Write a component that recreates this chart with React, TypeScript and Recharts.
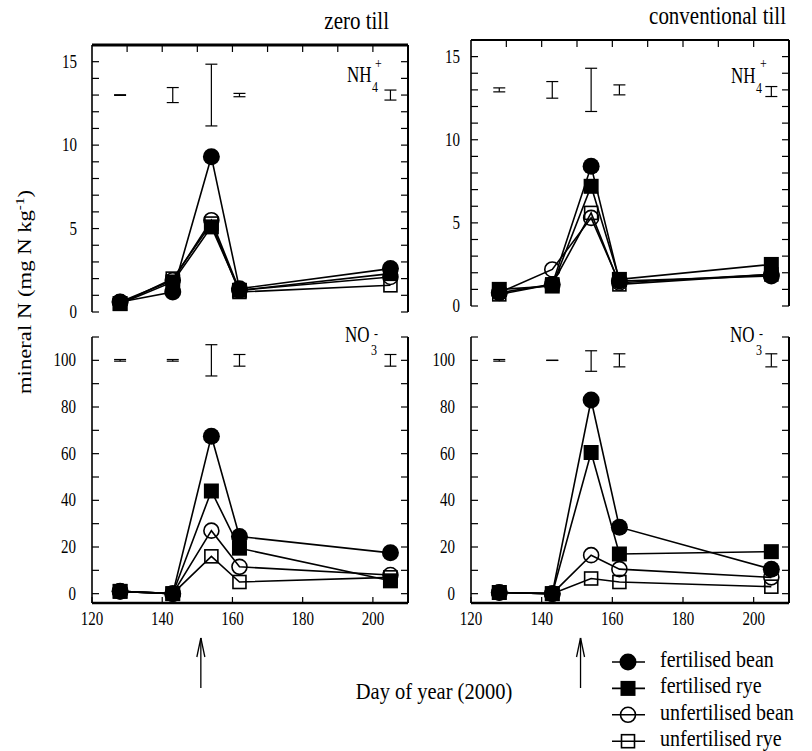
import React from "react";
import { LineChart, Line, XAxis, YAxis, ErrorBar, ReferenceLine, Legend } from "recharts";

const FONT = '"Liberation Serif", "Times New Roman", serif';

// sampling days (day of year 2000) and fertiliser date (arrow)
const DAYS = [128, 143, 154, 162, 205];
const ARROW_DAY = 151;
const X_DOMAIN: [number, number] = [120, 210];
const X_TICKS_TOP = [130, 140, 150, 160, 170, 180, 190, 200];
const X_TICKS_BOTTOM = [120, 140, ARROW_DAY, 160, 180, 200];

const NH4_DOMAIN: [number, number] = [0, 16];
const NH4_TICKS = [0, 1, 2, 3, 4, 5, 6, 7, 8, 9, 10, 11, 12, 13, 14, 15, 16];
const NO3_DOMAIN: [number, number] = [-4, 110];
const NO3_TICKS = [0, 10, 20, 30, 40, 50, 60, 70, 80, 90, 100, 110];

// NH4+ zero till
const NH4_ZT_FB = [0.6, 1.2, 9.3, 1.4, 2.6];
const NH4_ZT_FR = [0.5, 1.8, 5.1, 1.3, 2.3];
const NH4_ZT_UB = [0.6, 1.9, 5.5, 1.3, 2.1];
const NH4_ZT_UR = [0.5, 2.0, 5.3, 1.2, 1.6];
const NH4_ZT_ERR = [0.02, 0.45, 1.85, 0.1, 0.3];
const NH4_ZT_MID = [13, 13, 13, 13, 13];

// NH4+ conventional till
const NH4_CT_FB = [0.8, 1.3, 8.4, 1.5, 1.8];
const NH4_CT_FR = [1.0, 1.2, 7.2, 1.6, 2.5];
const NH4_CT_UB = [0.8, 2.2, 5.3, 1.4, 1.9];
const NH4_CT_UR = [0.7, 1.3, 5.6, 1.3, 1.9];
const NH4_CT_ERR = [0.12, 0.5, 1.3, 0.3, 0.3];
const NH4_CT_MID = [13, 13, 13, 13, 12.9];

// NO3- zero till
const NO3_ZT_FB = [1, 0, 67.5, 24.5, 17.5];
const NO3_ZT_FR = [1, 0, 44, 19.5, 5.5];
const NO3_ZT_UB = [1, 0, 27, 11.5, 8];
const NO3_ZT_UR = [1, 0, 16, 5, 7];
const NO3_ZT_ERR = [0.35, 0.35, 6.7, 2.5, 2.5];
const NO3_ZT_MID = [100, 100, 100, 100, 100];

// NO3- conventional till
const NO3_CT_FB = [0.5, 0, 83, 28.5, 10.5];
const NO3_CT_FR = [0.5, 0, 60.5, 17, 18];
const NO3_CT_UB = [0.5, 0, 16.5, 10.5, 7];
const NO3_CT_UR = [0.5, 0, 6.5, 5, 3];
const NO3_CT_ERR = [0.35, 0.05, 4.4, 2.8, 2.8];
const NO3_CT_MID = [100, 100, 99.7, 100, 100];

const SERIES = [
  { key: "ur", name: "unfertilised rye", shape: "square", filled: false },
  { key: "ub", name: "unfertilised bean", shape: "circle", filled: false },
  { key: "fr", name: "fertilised rye", shape: "square", filled: true },
  { key: "fb", name: "fertilised bean", shape: "circle", filled: true },
];

const buildRows = (fb: number[], fr: number[], ub: number[], ur: number[], mid: number[], err: number[]) =>
  DAYS.map((day, i) => ({ day, fb: fb[i], fr: fr[i], ub: ub[i], ur: ur[i], mid: mid[i], err: err[i] }));

const Marker = ({ cx, cy, shape, filled }: any) => {
  if (shape === "circle") {
    return filled
      ? <circle cx={cx} cy={cy} r={8.5} fill="#000" />
      : <circle cx={cx} cy={cy} r={7.5} fill="none" stroke="#000" strokeWidth={1.6} />;
  }
  return filled
    ? <rect x={cx - 7.5} y={cy - 7.5} width={15} height={15} fill="#000" />
    : <rect x={cx - 6.5} y={cy - 6.5} width={13} height={13} fill="none" stroke="#000" strokeWidth={1.6} />;
};

const Txt = ({ x, y, anchor = "start", size = 19, sy = 1.25, children }: any) => (
  <text transform={`translate(${x} ${y}) scale(1 ${sy})`} textAnchor={anchor} fontSize={size} fontFamily={FONT} fill="#000">
    {children}
  </text>
);

function YTick({ x, y, payload, plotW, every, max, gap }: any) {
  const v = payload.value;
  return (
    <g>
      <line x1={x} x2={x + 7} y1={y} y2={y} stroke="#000" strokeWidth={1.2} />
      <line x1={x + plotW - 7} x2={x + plotW} y1={y} y2={y} stroke="#000" strokeWidth={1.2} />
      {v % every === 0 && v <= max && (
        <Txt x={x - gap} y={y + 6} anchor="end" size={15} sy={1.3}>{v}</Txt>
      )}
    </g>
  );
}

function TopTick({ x, y }: any) {
  return <line x1={x} x2={x} y1={y} y2={y + 7} stroke="#000" strokeWidth={1.2} />;
}

function BottomTick({ x, y, payload }: any) {
  const v = payload.value;
  if (v === ARROW_DAY) {
    return (
      <g stroke="#000" strokeWidth={1.3} fill="none">
        <line x1={x} x2={x} y1={y + 35} y2={y + 85} />
        <line x1={x} x2={x - 4} y1={y + 35} y2={y + 54} />
        <line x1={x} x2={x + 4} y1={y + 35} y2={y + 54} />
      </g>
    );
  }
  return (
    <g>
      <line x1={x} x2={x} y1={y} y2={y - 6} stroke="#000" strokeWidth={1.2} />
      <Txt x={x} y={y + 22} anchor="middle" size={15} sy={1.3}>{v}</Txt>
    </g>
  );
}

function LegendBox() {
  const rows = [...SERIES].reverse();
  return (
    <svg width={215} height={104}>
      {rows.map((s, i) => {
        const cy = 15 + i * 26.4;
        return (
          <g key={s.key}>
            <line x1={7} x2={40} y1={cy} y2={cy} stroke="#000" strokeWidth={1.6} />
            <Marker cx={23} cy={cy} shape={s.shape} filled={s.filled} />
            <Txt x={55} y={cy + 5} size={20} sy={1.12}>{s.name}</Txt>
          </g>
        );
      })}
    </svg>
  );
}

function Panel({ rows, left, top, width, height, plotW, bottom, yDomain, yTicks, every, max, gap, topWidth, children }: any) {
  const xAxisH = bottom ? 148 : 20;
  return (
    <div style={{ position: "absolute", left, top }}>
      <LineChart
        width={width}
        height={height}
        data={rows}
        margin={{ top: bottom ? 12 : 0, right: 12, bottom: bottom ? 0 : 12, left: 0 }}
      >
        <XAxis
          dataKey="day"
          type="number"
          domain={X_DOMAIN}
          ticks={bottom ? X_TICKS_BOTTOM : X_TICKS_TOP}
          orientation={bottom ? "bottom" : "top"}
          height={xAxisH}
          interval={0}
          tickSize={0}
          tickMargin={0}
          tickLine={false}
          axisLine={{ stroke: "#000", strokeWidth: bottom ? 2.5 : topWidth }}
          tick={(p: any) => (bottom ? <BottomTick {...p} /> : <TopTick {...p} />)}
        />
        <YAxis
          type="number"
          domain={yDomain}
          ticks={yTicks}
          width={50}
          interval={0}
          tickSize={0}
          tickMargin={0}
          tickLine={false}
          axisLine={{ stroke: "#000", strokeWidth: 1.6 }}
          tick={(p: any) => <YTick {...p} plotW={plotW} every={every} max={max} gap={gap} />}
        />
        <ReferenceLine x={210} stroke="#000" strokeWidth={2} />
        <Line dataKey="mid" stroke="none" dot={false} activeDot={false} legendType="none" isAnimationActive={false}>
          <ErrorBar dataKey="err" direction="y" width={6} stroke="#000" strokeWidth={1.2} />
        </Line>
        {SERIES.map((s) => (
          <Line
            key={s.key}
            dataKey={s.key}
            name={s.name}
            type="linear"
            stroke="#000"
            strokeWidth={1.6}
            activeDot={false}
            isAnimationActive={false}
            dot={(p: any) => <Marker key={`${s.key}-${p.index}`} cx={p.cx} cy={p.cy} shape={s.shape} filled={s.filled} />}
          />
        ))}
        {children}
      </LineChart>
    </div>
  );
}

export default function App() {
  return (
    <div style={{ position: "absolute", left: 0, top: 0, width: 812, height: 751, background: "#fff", fontFamily: FONT }}>
      <Panel
        rows={buildRows(NH4_ZT_FB, NH4_ZT_FR, NH4_ZT_UB, NH4_ZT_UR, NH4_ZT_MID, NH4_ZT_ERR)}
        left={42} top={25} width={378} height={299} plotW={316}
        yDomain={NH4_DOMAIN} yTicks={NH4_TICKS} every={5} max={15} gap={15} topWidth={3}
      />
      <Panel
        rows={buildRows(NH4_CT_FB, NH4_CT_FR, NH4_CT_UB, NH4_CT_UR, NH4_CT_MID, NH4_CT_ERR)}
        left={421} top={20} width={380} height={298} plotW={318}
        yDomain={NH4_DOMAIN} yTicks={NH4_TICKS} every={5} max={15} gap={11} topWidth={2.2}
      />
      <Panel
        rows={buildRows(NO3_ZT_FB, NO3_ZT_FR, NO3_ZT_UB, NO3_ZT_UR, NO3_ZT_MID, NO3_ZT_ERR)}
        left={42} top={325} width={378} height={426} plotW={316} bottom
        yDomain={NO3_DOMAIN} yTicks={NO3_TICKS} every={20} max={100} gap={16}
      />
      <Panel
        rows={buildRows(NO3_CT_FB, NO3_CT_FR, NO3_CT_UB, NO3_CT_UR, NO3_CT_MID, NO3_CT_ERR)}
        left={421} top={325} width={380} height={426} plotW={318} bottom
        yDomain={NO3_DOMAIN} yTicks={NO3_TICKS} every={20} max={100} gap={16}
      >
        <Legend
          layout="vertical"
          align="center"
          verticalAlign="middle"
          wrapperStyle={{ left: 184, top: 322, width: 215, height: 104 }}
          content={() => <LegendBox />}
        />
      </Panel>

      <svg width={812} height={751} style={{ position: "absolute", left: 0, top: 0, pointerEvents: "none" }}>
        <Txt x={389} y={29} anchor="end" size={21} sy={1.15}>zero till</Txt>
        <Txt x={786} y={24} anchor="end" size={21} sy={1.15}>conventional till</Txt>

        <Txt x={347} y={82} size={17} sy={1.3}>NH</Txt>
        <Txt x={372} y={92} size={12} sy={1.3}>4</Txt>
        <Txt x={375} y={68} size={12} sy={1.3}>+</Txt>
        <Txt x={731} y={83} size={17} sy={1.3}>NH</Txt>
        <Txt x={756} y={93} size={12} sy={1.3}>4</Txt>
        <Txt x={760} y={68} size={12} sy={1.3}>+</Txt>

        <Txt x={345} y={342} size={17} sy={1.3}>NO</Txt>
        <Txt x={371} y={355} size={12} sy={1.3}>3</Txt>
        <Txt x={374} y={338} size={12} sy={1.3}>-</Txt>
        <Txt x={730} y={342} size={17} sy={1.3}>NO</Txt>
        <Txt x={756} y={355} size={12} sy={1.3}>3</Txt>
        <Txt x={759} y={338} size={12} sy={1.3}>-</Txt>

        <text transform="translate(31 292) rotate(-90) scale(1.26 1)" textAnchor="middle" fontSize={18} fontFamily={FONT} fill="#000">
          mineral N (mg N kg<tspan dy={-7} fontSize={12}>-1</tspan><tspan dy={7}>)</tspan>
        </text>
        <Txt x={434} y={699} anchor="middle" size={20.5} sy={1.15}>Day of year (2000)</Txt>
      </svg>
    </div>
  );
}
